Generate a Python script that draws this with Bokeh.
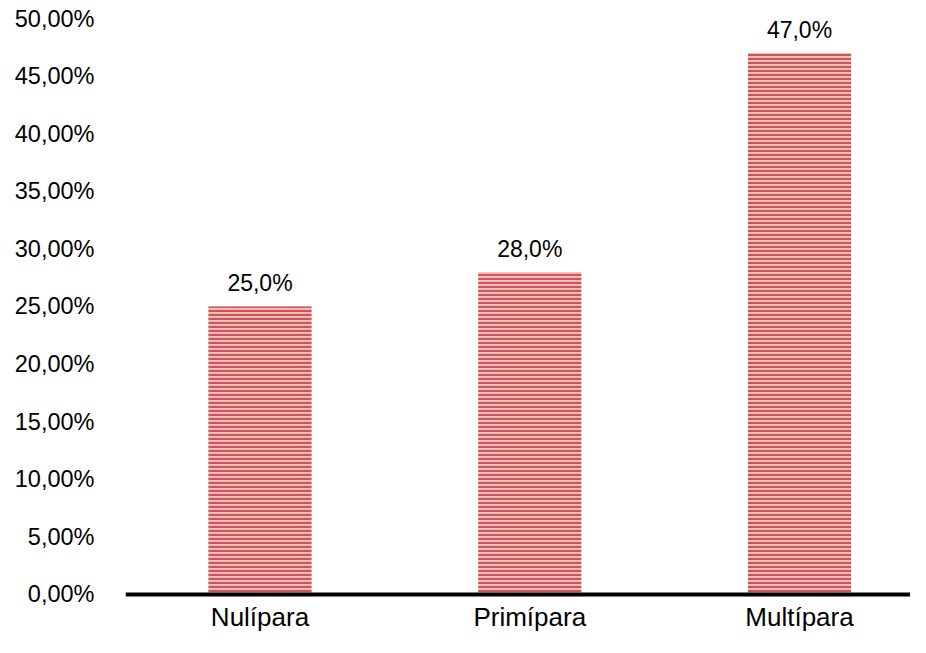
from bokeh.plotting import figure
from bokeh.models import ColumnDataSource, Range1d, FixedTicker, Span
from bokeh.core.properties import value
from bokeh.embed import file_html
from bokeh.resources import INLINE

categories = ["Nulípara", "Primípara", "Multípara"]
values = [25.0, 28.0, 47.0]
value_labels = ["25,0%", "28,0%", "47,0%"]
y_ticks = [0, 5, 10, 15, 20, 25, 30, 35, 40, 45, 50]
y_tick_labels = ["0,00%", "5,00%", "10,00%", "15,00%", "20,00%", "25,00%",
                 "30,00%", "35,00%", "40,00%", "45,00%", "50,00%"]

xs = list(range(len(categories)))
src = ColumnDataSource(dict(x=xs, top=values, label=value_labels,
                            cat=categories, base=[0] * len(xs)))

p = figure(width=910, height=637, output_backend="svg",
           toolbar_location=None, x_axis_location=None,
           x_range=Range1d(-0.4986, 2.4115), y_range=Range1d(-3.733, 50),
           min_border_left=125, min_border_right=0, min_border_top=18,
           min_border_bottom=0)
p.outline_line_color = None
p.xgrid.visible = False
p.ygrid.visible = False
p.background_fill_color = "white"
p.border_fill_color = "white"

p.vbar(x="x", top="top", width=0.382, bottom=0, source=src,
       fill_color="#f2c0c0", line_color=None,
       hatch_pattern="horizontal_line", hatch_color="#cd5757",
       hatch_scale=4, hatch_weight=2.2)

p.add_layout(Span(location=0, dimension="width", line_color="black",
                  line_width=4))

p.text(x="x", y="top", text="label", source=src, text_align="center",
       text_baseline="bottom", y_offset=-10, text_font_size="23px",
       text_color="#000000", text_font=value("Liberation Sans"))

p.text(x="x", y="base", text="cat", source=src, text_align="center",
       text_baseline="middle", y_offset=23, text_font_size="26px",
       text_color="#000000", text_font=value("Liberation Sans"))

ya = p.yaxis[0]
ya.ticker = FixedTicker(ticks=y_ticks)
ya.major_label_overrides = {t: l for t, l in zip(y_ticks, y_tick_labels)}
ya.axis_line_color = None
ya.major_tick_line_color = None
ya.minor_tick_line_color = None
ya.major_label_text_font = "Liberation Sans"
ya.major_label_text_font_size = "23.5px"
ya.major_label_text_color = "black"
ya.major_label_standoff = 25

open("out.html", "w").write(file_html(p, INLINE))
